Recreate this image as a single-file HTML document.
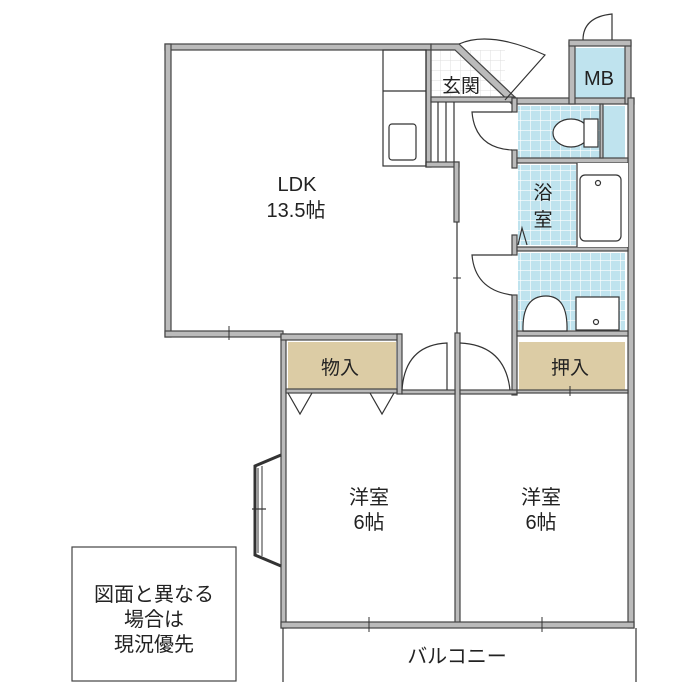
<!DOCTYPE html>
<html><head><meta charset="utf-8"><style>
html,body{margin:0;padding:0;background:#fff;}
svg{display:block}
text{font-family:"Liberation Sans","Noto Sans CJK JP",sans-serif;fill:#222;}
</style></head><body>
<svg width="700" height="700" viewBox="0 0 700 700" xmlns="http://www.w3.org/2000/svg">
<defs>
<pattern id="tile" width="10" height="10" patternUnits="userSpaceOnUse">
<rect width="10" height="10" fill="#bfe3ee"/><path d="M0 0H10M0 0V10" stroke="#fff" stroke-width="1.2"/></pattern>
<pattern id="gtile" width="10" height="10" patternUnits="userSpaceOnUse">
<rect width="10" height="10" fill="#fff"/><path d="M0 0H10M0 0V10" stroke="#ddd" stroke-width="1"/></pattern>
</defs>

<!-- fills -->
<rect x="431" y="50" width="74" height="47" fill="url(#gtile)"/>
<rect x="518" y="106" width="82" height="52" fill="url(#tile)"/>
<rect x="603" y="106" width="22" height="52" fill="#bfe3ee"/>
<rect x="518" y="165" width="58" height="80" fill="url(#tile)"/>
<rect x="518" y="253" width="107" height="78" fill="url(#tile)"/>
<rect x="575" y="48" width="50" height="50" fill="#bfe3ee"/>
<rect x="288" y="342" width="108" height="47" fill="#dccca5"/>
<rect x="519" y="342" width="106" height="48" fill="#dccca5"/>

<g fill="#bbb" stroke="#444" stroke-width="1.2">
<!-- outer LDK walls -->
<rect x="165" y="44" width="266" height="6"/>
<rect x="165" y="44" width="6" height="293"/>
<rect x="165" y="331" width="118" height="6"/>
<polygon points="431,44 459,44 519,101 514,106 455,50 431,50"/>
<rect x="426" y="50" width="5" height="117"/>
<rect x="426" y="162" width="33" height="5"/>
<rect x="454" y="162" width="5" height="60"/>
<!-- genkan step wall -->
<rect x="431" y="97" width="84" height="5"/>
<!-- right block -->
<rect x="512" y="98" width="122" height="6"/>
<rect x="569" y="42" width="6" height="62"/>
<rect x="625" y="42" width="6" height="62"/>
<rect x="569" y="40" width="62" height="6"/>
<rect x="512" y="98" width="5" height="14"/>
<rect x="512" y="150" width="5" height="18"/>
<rect x="512" y="235" width="5" height="20"/>
<rect x="512" y="295" width="5" height="100"/>
<rect x="628" y="98" width="6" height="530"/>
<rect x="517" y="158" width="111" height="5"/>
<rect x="600" y="104" width="3" height="54"/>
<rect x="517" y="247" width="111" height="4"/>
<rect x="517" y="331" width="111" height="5"/>
<!-- bedrooms -->
<rect x="281" y="334" width="5" height="294"/>
<rect x="281" y="334" width="120" height="6"/>
<rect x="397" y="334" width="5" height="60"/>
<rect x="455" y="333" width="5" height="293"/>
<rect x="281" y="622" width="353" height="6"/>
<rect x="286" y="389" width="111" height="4"/>
<rect x="402" y="390" width="53" height="4"/>
<rect x="460" y="390" width="57" height="4"/>
<rect x="517" y="390" width="111" height="3"/>
</g>
<!-- thin partition LDK/hall -->
<line x1="457" y1="222" x2="457" y2="333" stroke="#333" stroke-width="1.2"/>
<line x1="453" y1="278" x2="461" y2="278" stroke="#333"/>
<line x1="229" y1="326" x2="229" y2="340" stroke="#333"/>

<!-- kitchen counter -->
<g fill="none" stroke="#333" stroke-width="1.2">
<rect x="383" y="50" width="43" height="116"/>
<line x1="383" y1="91" x2="426" y2="91"/>
<rect x="389" y="124" width="27" height="36" rx="3"/>
<!-- stairs/shoe -->
<line x1="438" y1="102" x2="438" y2="162"/>
<line x1="446" y1="102" x2="446" y2="162"/>
<line x1="454" y1="102" x2="454" y2="162"/>
<!-- entrance door -->
<path d="M459 44 Q490 30 545 55 L505 100"/>
<!-- MB door -->
<path d="M583 40 Q583 17 612 14 L612 40"/>
<!-- toilet door -->
<path d="M512 112 L472 112 Q475 148 512 150"/>
<!-- toilet -->
<ellipse cx="571" cy="133" rx="18" ry="14" fill="#fff"/>
<rect x="584" y="119" width="14" height="28" fill="#fff"/>
<!-- tub -->
<rect x="577" y="163" width="51" height="84" fill="#fff" stroke="none"/>
<line x1="577" y1="163" x2="577" y2="247"/>
<rect x="580" y="175" width="41" height="66" rx="5" fill="#fff"/>
<circle cx="598" cy="183" r="2.5"/>
<!-- wash door -->
<path d="M512 255 L472 255 Q475 290 512 295"/>
<!-- bath door sliver -->
<path d="M518 245 L522 228 L527 245"/>
<!-- sink -->
<path d="M523 331 Q522 296 546 296 Q568 296 567 331 Z" fill="#fff"/>
<rect x="576" y="297" width="43" height="33" fill="#fff"/>
<circle cx="596" cy="322" r="2.5"/>
<!-- bedroom doors -->
<path d="M402 390 Q405 345 447 343 L447 390"/>
<path d="M460 343 Q505 345 510 390"/>
<!-- closet triangles -->
<path d="M288 393 L300 414 L312 393"/>
<path d="M370 393 L382 414 L394 393"/>
<!-- balcony -->
<line x1="283" y1="628" x2="283" y2="682"/>
<line x1="636" y1="628" x2="636" y2="682"/>
<!-- bay window -->
<path d="M281 455 L255 466 L255 555 L281 566" stroke-width="3"/>
<path d="M258 468 L258 553 M262 466 L262 556" stroke-width="1"/>
<line x1="252" y1="509" x2="266" y2="509"/>
<!-- note box -->
<rect x="72" y="547" width="164" height="134" stroke="#444"/>
</g>
<!-- window marks -->
<g stroke="#333" stroke-width="1">
<line x1="369" y1="617" x2="369" y2="632"/>
<line x1="542" y1="617" x2="542" y2="632"/>
<line x1="570" y1="386" x2="570" y2="396"/>
</g>

<!-- labels -->
<text x="297" y="191" font-size="20" text-anchor="middle">LDK</text>
<text x="296" y="217" font-size="20" text-anchor="middle">13.5帖</text>
<text x="461" y="92" font-size="19" text-anchor="middle">玄関</text>
<text x="599" y="85" font-size="20" text-anchor="middle">MB</text>
<text x="543" y="199" font-size="19" text-anchor="middle">浴</text>
<text x="543" y="226" font-size="19" text-anchor="middle">室</text>
<text x="340" y="374" font-size="19" text-anchor="middle">物入</text>
<text x="570" y="374" font-size="19" text-anchor="middle">押入</text>
<text x="369" y="504" font-size="20" text-anchor="middle">洋室</text>
<text x="369" y="529" font-size="20" text-anchor="middle">6帖</text>
<text x="541" y="504" font-size="20" text-anchor="middle">洋室</text>
<text x="541" y="529" font-size="20" text-anchor="middle">6帖</text>
<text x="457" y="663" font-size="20" text-anchor="middle">バルコニー</text>
<text x="154" y="601" font-size="20" text-anchor="middle">図面と異なる</text>
<text x="154" y="626" font-size="20" text-anchor="middle">場合は</text>
<text x="154" y="651" font-size="20" text-anchor="middle">現況優先</text>
</svg>
</body></html>
